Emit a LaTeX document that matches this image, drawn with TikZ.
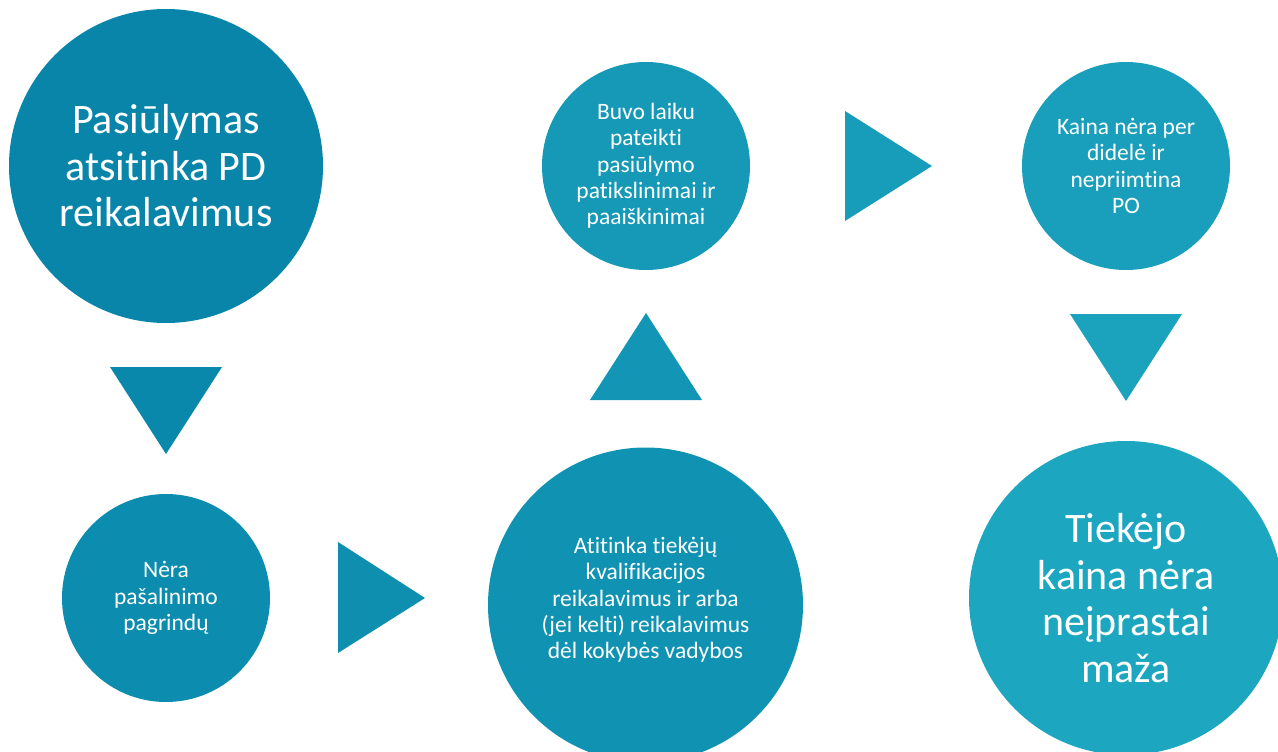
\documentclass[tikz,border=0pt]{standalone}
\usepackage{fontspec}
\setmainfont{Carlito}[Ligatures=NoCommon]
\definecolor{cdark}{RGB}{8,133,169}
\definecolor{clight}{RGB}{29,166,192}
\colorlet{k1}{clight!0!cdark}
\colorlet{k2}{clight!10!cdark}
\colorlet{k3}{clight!20!cdark}
\colorlet{k4}{clight!30!cdark}
\colorlet{k5}{clight!40!cdark}
\colorlet{k6}{clight!50!cdark}
\colorlet{k7}{clight!60!cdark}
\colorlet{k8}{clight!70!cdark}
\colorlet{k9}{clight!80!cdark}
\colorlet{k10}{clight!90!cdark}
\colorlet{k11}{clight!100!cdark}
\tikzset{
  bigdisc/.style={circle, inner sep=0pt, minimum size=314pt, text=white, align=center,
    font=\fontsize{42}{46.5}\selectfont},
  smalldisc/.style={circle, inner sep=0pt, minimum size=208pt, text=white, align=center,
    font=\fontsize{23.5}{26.3}\selectfont},
  middisc/.style={circle, inner sep=0pt, minimum size=315pt, text=white, align=center,
    font=\fontsize{23.5}{26.3}\selectfont},
}
\begin{document}
\begin{tikzpicture}[x=1pt,y=-1pt]
\useasboundingbox (0,0) rectangle (1278,752);
\fill[white] (0,0) rectangle (1278,752);
% circles
\node[bigdisc, fill=k1] (c1) at (166,166) {Pasiūlymas\\atsitinka PD\\reikalavimus};
\node[smalldisc, fill=k3] (c2) at (166,598) {Nėra\\pašalinimo\\pagrindų};
\node[middisc, fill=k5] (c3) at (645.5,605) {};
\node[text=white, align=center, font=\fontsize{23.5}{26.3}\selectfont] (t3) at (645.5,600)
  {Atitinka tiekėjų\\kvalifikacijos\\reikalavimus ir arba\\(jei kelti) reikalavimus\\dėl kokybės vadybos};
\node[smalldisc, fill=k7] (c4) at (646,166) {Buvo laiku\\pateikti\\pasiūlymo\\patikslinimai ir\\paaiškinimai};
\node[smalldisc, fill=k9] (c5) at (1126,166) {Kaina nėra per\\didelė ir\\nepriimtina\\PO};
\node[bigdisc, fill=k11] (c6) at (1126,598) {Tiekėjo\\kaina nėra\\neįprastai\\maža};
% arrows (triangles)
\fill[k2] (110,367) -- (222,367) -- (166,454) -- cycle;
\fill[k4] (338,542) -- (338,653) -- (425,598) -- cycle;
\fill[k6] (590,400) -- (702,400) -- (646,313) -- cycle;
\fill[k8] (845,111) -- (845,221) -- (932,166) -- cycle;
\fill[k10] (1070,314) -- (1182,314) -- (1126,401) -- cycle;
\end{tikzpicture}
\end{document}
